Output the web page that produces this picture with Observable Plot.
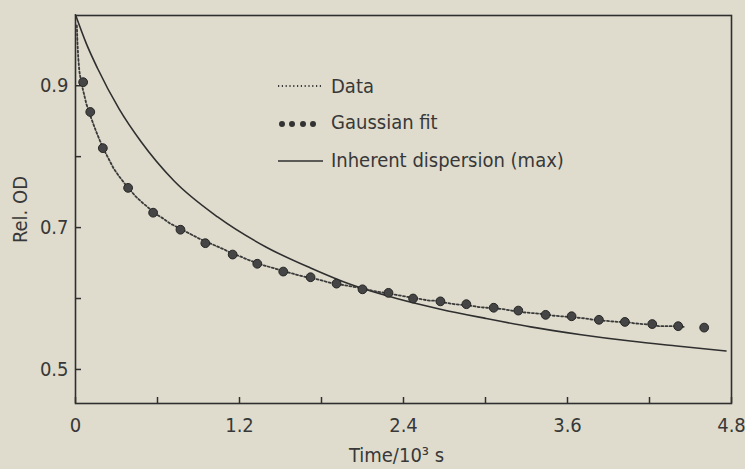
<!DOCTYPE html>
<html>
<head>
<meta charset="utf-8">
<script src="https://cdn.jsdelivr.net/npm/d3@7"></script>
<script src="https://cdn.jsdelivr.net/npm/@observablehq/plot@0.6"></script>
<style>
  html, body { margin: 0; padding: 0; background: #dfdccd; }
  #wrap { position: relative; width: 745px; height: 469px; }
  #wrap svg { position: absolute; left: 0; top: 0; }
</style>
</head>
<body>
<div id="wrap"></div>
<script>
// ---- data ----
const dataTime = [0.010,0.014,0.020,0.028,0.040,0.060,0.080,0.100,0.125,0.150,0.180,0.210,0.245,0.280,0.320,0.360,0.400,0.440,0.490,0.540,0.590,0.640,0.690,0.740,0.790,0.850,0.910,0.970,1.030,1.090,1.150,1.210,1.270,1.330,1.390,1.450,1.510,1.570,1.630,1.690,1.750,1.810,1.870,1.930,1.990,2.050,2.110,2.170,2.230,2.290,2.350,2.410,2.470,2.530,2.590,2.650,2.710,2.770,2.830,2.890,2.950,3.010,3.070,3.130,3.190,3.250,3.310,3.370,3.430,3.490,3.550,3.610,3.670,3.730,3.790,3.850,3.910,3.970,4.030,4.090,4.150,4.210,4.270,4.330,4.390,4.450];
const dataOD   = [0.985,0.962,0.940,0.921,0.906,0.890,0.874,0.862,0.849,0.836,0.822,0.809,0.796,0.783,0.772,0.762,0.753,0.744,0.735,0.727,0.719,0.713,0.706,0.701,0.696,0.690,0.684,0.679,0.674,0.669,0.663,0.659,0.654,0.650,0.646,0.643,0.639,0.636,0.633,0.630,0.628,0.625,0.622,0.620,0.618,0.616,0.614,0.611,0.609,0.607,0.605,0.603,0.601,0.599,0.597,0.597,0.594,0.592,0.591,0.590,0.588,0.587,0.586,0.585,0.583,0.581,0.580,0.579,0.578,0.576,0.575,0.574,0.573,0.572,0.570,0.569,0.568,0.567,0.567,0.565,0.564,0.563,0.561,0.561,0.561,0.560];

const fitTime = [0.056,0.108,0.200,0.385,0.568,0.768,0.950,1.150,1.330,1.520,1.720,1.910,2.100,2.290,2.470,2.670,2.860,3.060,3.240,3.440,3.630,3.830,4.020,4.220,4.410,4.600];
const fitOD   = [0.905,0.863,0.812,0.756,0.721,0.697,0.678,0.662,0.649,0.638,0.630,0.621,0.613,0.608,0.600,0.596,0.592,0.587,0.583,0.577,0.575,0.570,0.567,0.564,0.561,0.559];

const inhTime = [0,0.08,0.16,0.32,0.48,0.72,1.04,1.40,1.72,2.01,2.35,2.67,3.00,3.33,3.70,4.06,4.40,4.76];
const inhOD   = [1.000,0.959,0.925,0.867,0.821,0.766,0.715,0.672,0.643,0.620,0.600,0.585,0.572,0.560,0.549,0.540,0.533,0.526];

const xTicksMajor = [0, 1.2, 2.4, 3.6, 4.8];
const xTicksMinor = [0.6, 1.8, 3.0, 4.2];
const yTicksMajor = [0.5, 0.7, 0.9];
const yTicksMinor = [0.6, 0.8];

const xTitle = "Time/10³ s";
const yTitle = "Rel. OD";
const legendLabels = ["Data", "Gaussian fit", "Inherent dispersion (max)"];

// ---- build ----
const FONT = '"DejaVu Sans Condensed", "Liberation Sans Narrow", "DejaVu Sans", sans-serif';
const INK = "#2f2f2f";

const data = dataTime.map((t, i) => ({t, v: dataOD[i]}));
const fit = fitTime.map((t, i) => ({t, v: fitOD[i]}));
const inh = inhTime.map((t, i) => ({t, v: inhOD[i]}));

const W = 745, H = 469, mL = 75, mR = 14, mT = 15, mB = 66;
const plotW = W - mL - mR, plotH = H - mT - mB;
const TICK = 6;

const chart = Plot.plot({
  width: W, height: H,
  marginLeft: mL, marginRight: mR, marginTop: mT, marginBottom: mB,
  x: {domain: [0, 4.8]},
  y: {domain: [0.452, 0.999]},
  style: {background: "transparent", fontFamily: FONT, color: "#383838"},
  marks: [
    Plot.frame({stroke: INK, strokeWidth: 1.6}),
    Plot.tickX([...xTicksMajor, ...xTicksMinor], {x: d => d, insetTop: plotH - TICK, stroke: INK, strokeWidth: 1.5}),
    Plot.tickY([...yTicksMajor, ...yTicksMinor], {y: d => d, insetRight: plotW - TICK, stroke: INK, strokeWidth: 1.5}),
    Plot.axisX(xTicksMajor, {tickSize: 0, tickPadding: 14, fontSize: 20, label: null, tickFormat: d => String(d)}),
    Plot.axisY(yTicksMajor, {tickSize: 0, tickPadding: 7, fontSize: 20, label: null, tickFormat: d => d.toFixed(1)}),
    Plot.line(inh, {x: "t", y: "v", stroke: INK, strokeWidth: 1.6, curve: "monotone-x"}),
    Plot.line(data, {x: "t", y: "v", stroke: "#3a3a3a", strokeWidth: 1.8, strokeDasharray: "2 2.2", curve: "linear"}),
    Plot.dot(fit, {x: "t", y: "v", r: 4.4, fill: "#454545", stroke: "#262626", strokeWidth: 1}),
    Plot.text([xTitle], {text: d => d, frameAnchor: "bottom", textAnchor: "middle", lineAnchor: "middle", dx: -7, dy: 52, fontSize: 20, fill: "#383838"}),
    Plot.text([yTitle], {text: d => d, frameAnchor: "left", textAnchor: "middle", lineAnchor: "middle", dx: -55, rotate: -90, fontSize: 20, fill: "#383838"})
  ]
});
const wrap = document.getElementById("wrap");
wrap.appendChild(chart);

// ---- legend overlay ----
const leg = d3.select(wrap).append("svg")
  .attr("width", W).attr("height", H)
  .style("font-family", FONT).style("pointer-events", "none");
const rowsY = [86, 122, 160];
const sx0 = 278, sx1 = 322, tx = 331;
legendLabels.forEach((lab, i) => {
  const y = rowsY[i];
  if (i === 0) {
    leg.append("line").attr("x1", sx0).attr("x2", sx1).attr("y1", y).attr("y2", y)
      .attr("stroke", "#3a3a3a").attr("stroke-width", 1.8).attr("stroke-dasharray", "1.2 2.6");
  } else if (i === 1) {
    [282, 292, 303, 313].forEach(cx => leg.append("circle").attr("cx", cx).attr("cy", y + 2).attr("r", 3).attr("fill", "#333"));
  } else {
    leg.append("line").attr("x1", sx0).attr("x2", sx1 + 1).attr("y1", y + 1).attr("y2", y + 1)
      .attr("stroke", INK).attr("stroke-width", 1.5);
  }
  leg.append("text").attr("x", tx).attr("y", y).attr("dy", "0.35em")
    .attr("font-size", 20).attr("fill", "#383838").text(lab);
});
</script>
</body>
</html>
